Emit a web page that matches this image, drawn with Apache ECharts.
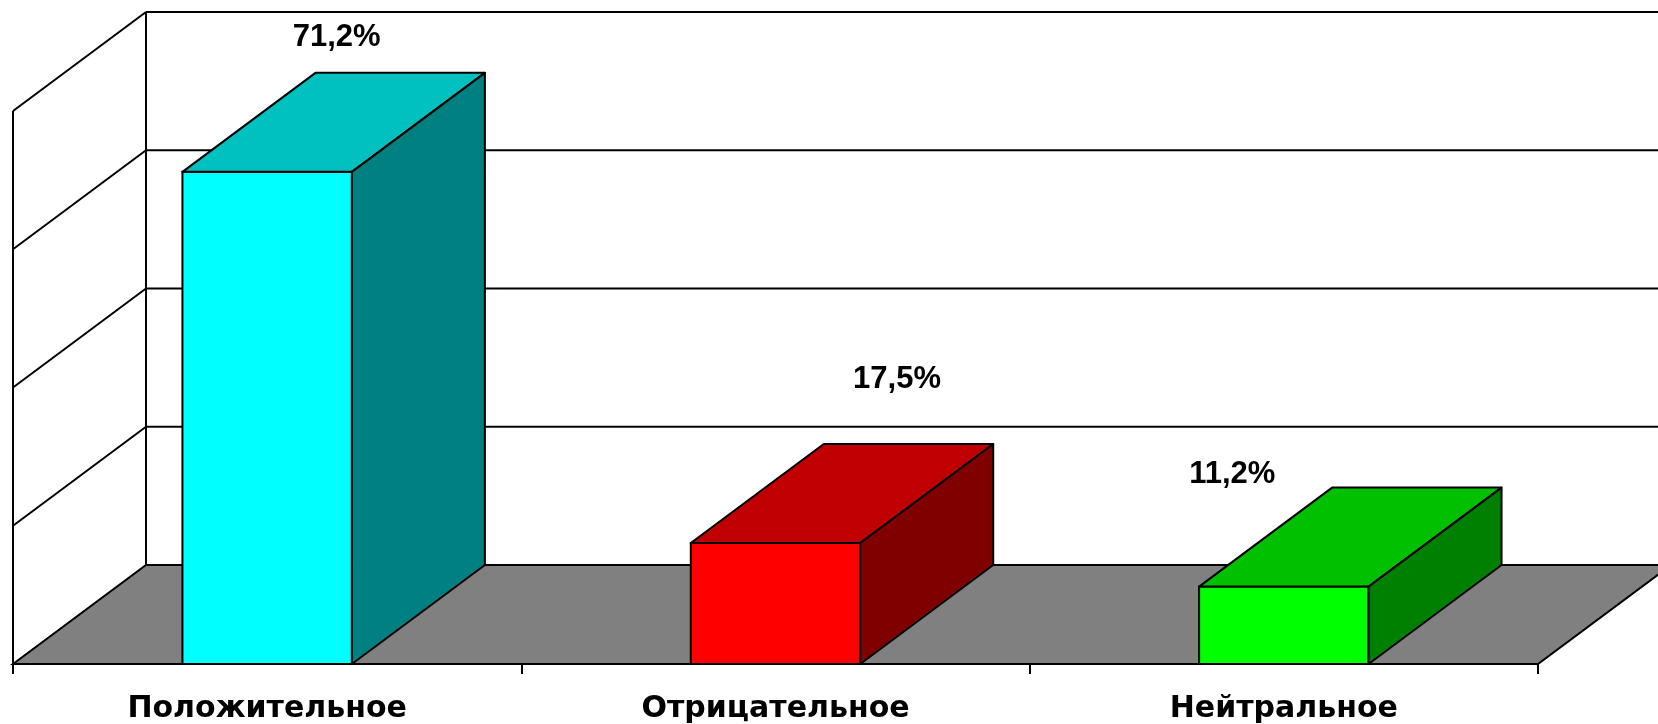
<!DOCTYPE html>
<html>
<head>
<meta charset="utf-8">
<title>Отношение</title>
<script src="https://cdn.jsdelivr.net/npm/echarts@6/dist/echarts.min.js"></script>
<style>
  html, body { margin: 0; padding: 0; background: #ffffff; }
  #chart { width: 1658px; height: 724px; }
</style>
</head>
<body>
<div id="chart"></div>
<script>
// Chart data
const categories = ['Положительное', 'Отрицательное', 'Нейтральное'];
const shares = [71.2, 17.5, 11.2];
const gridValues = [0, 20, 40, 60, 80];

// Look of the pseudo-3D boxes
const DEPTH_X = 133;
const DEPTH_Y = -99;
const frontColors = ['#00FFFF', '#FF0000', '#00FF00'];
const topColors = ['#00C0C0', '#C00000', '#00C000'];
const sideColors = ['#008080', '#800000', '#008000'];
// where each value caption sits relative to the centre of its box's top face
const labelNudge = [[3, -85], [55, -114], [-118, -63]];

const FONT = '"Liberation Sans", Arial, sans-serif';
const AXIS_FONT = '"DejaVu Sans", "Liberation Sans", sans-serif';
const LINE = { stroke: '#000', lineWidth: 2 };

const chart = echarts.init(document.getElementById('chart'));

function renderFrame(params, api) {
  const cs = params.coordSys;
  const x0 = cs.x, x1 = cs.x + cs.width;
  const yBase = api.coord([0, 0])[1];
  const yMax = api.coord([0, gridValues[gridValues.length - 1]])[1];
  const W = api.getWidth();
  const children = [];
  // floor
  children.push({
    type: 'polygon',
    shape: { points: [[x0, yBase], [x1, yBase], [x1 + DEPTH_X, yBase + DEPTH_Y], [x0 + DEPTH_X, yBase + DEPTH_Y]] },
    style: Object.assign({ fill: '#808080' }, LINE)
  });
  // back wall grid lines and left wall slanted grid lines
  gridValues.forEach(function (v) {
    const y = api.coord([0, v])[1];
    if (v > 0) {
      children.push({
        type: 'line',
        shape: { x1: x0 + DEPTH_X, y1: y + DEPTH_Y, x2: W + 20, y2: y + DEPTH_Y },
        style: LINE
      });
      children.push({
        type: 'line',
        shape: { x1: x0, y1: y, x2: x0 + DEPTH_X, y2: y + DEPTH_Y },
        style: LINE
      });
    }
  });
  // wall edges
  children.push({
    type: 'line',
    shape: { x1: x0, y1: yMax, x2: x0, y2: yBase },
    style: LINE
  });
  children.push({
    type: 'line',
    shape: { x1: x0 + DEPTH_X, y1: yMax + DEPTH_Y, x2: x0 + DEPTH_X, y2: yBase + DEPTH_Y },
    style: LINE
  });
  return { type: 'group', children: children };
}

function renderBox(params, api) {
  const i = api.value(0);
  const v = api.value(1);
  const top = api.coord([i, v]);
  const base = api.coord([i, 0]);
  const band = api.size([1, 0])[0];
  const w = band / 3;
  const xl = top[0] - w / 2, xr = top[0] + w / 2;
  const yt = top[1], yb = base[1];
  const nudge = labelNudge[i];
  const cx = top[0] + DEPTH_X / 2, cy = yt + DEPTH_Y / 2;
  return {
    type: 'group',
    children: [
      {
        type: 'rect',
        shape: { x: xl, y: yt, width: w, height: yb - yt },
        style: Object.assign({ fill: frontColors[i] }, LINE)
      },
      {
        type: 'polygon',
        shape: { points: [[xl, yt], [xr, yt], [xr + DEPTH_X, yt + DEPTH_Y], [xl + DEPTH_X, yt + DEPTH_Y]] },
        style: Object.assign({ fill: topColors[i], lineJoin: 'round' }, LINE)
      },
      {
        type: 'polygon',
        shape: { points: [[xr, yt], [xr + DEPTH_X, yt + DEPTH_Y], [xr + DEPTH_X, yb + DEPTH_Y], [xr, yb]] },
        style: Object.assign({ fill: sideColors[i], lineJoin: 'round' }, LINE)
      },
      {
        type: 'text',
        style: {
          text: String(v).replace('.', ',') + '%',
          x: cx + nudge[0],
          y: cy + nudge[1],
          align: 'center',
          verticalAlign: 'middle',
          fill: '#000',
          fontSize: 31,
          fontWeight: 'bold',
          fontFamily: FONT
        }
      }
    ]
  };
}

chart.setOption({
  animation: false,
  backgroundColor: '#ffffff',
  grid: { left: 13, right: 120, top: 111, bottom: 60 },
  xAxis: {
    type: 'category',
    data: categories,
    boundaryGap: true,
    z: 5,
    axisLine: { show: true, lineStyle: { color: '#000', width: 2 } },
    axisTick: { show: true, length: 10, lineStyle: { color: '#000', width: 2 } },
    axisLabel: {
      color: '#000',
      fontSize: 30,
      fontWeight: 'bold',
      fontFamily: AXIS_FONT,
      margin: 30
    }
  },
  yAxis: {
    type: 'value',
    min: 0,
    max: 80,
    interval: 20,
    show: false,
    splitLine: { show: false }
  },
  series: [
    {
      type: 'custom',
      name: 'frame',
      silent: true,
      z: 1,
      data: [[0, 0]],
      renderItem: renderFrame
    },
    {
      type: 'custom',
      name: 'shares',
      z: 3,
      data: shares.map(function (v, i) { return [i, v]; }),
      encode: { x: 0, y: 1 },
      renderItem: renderBox
    }
  ]
});
</script>
</body>
</html>
